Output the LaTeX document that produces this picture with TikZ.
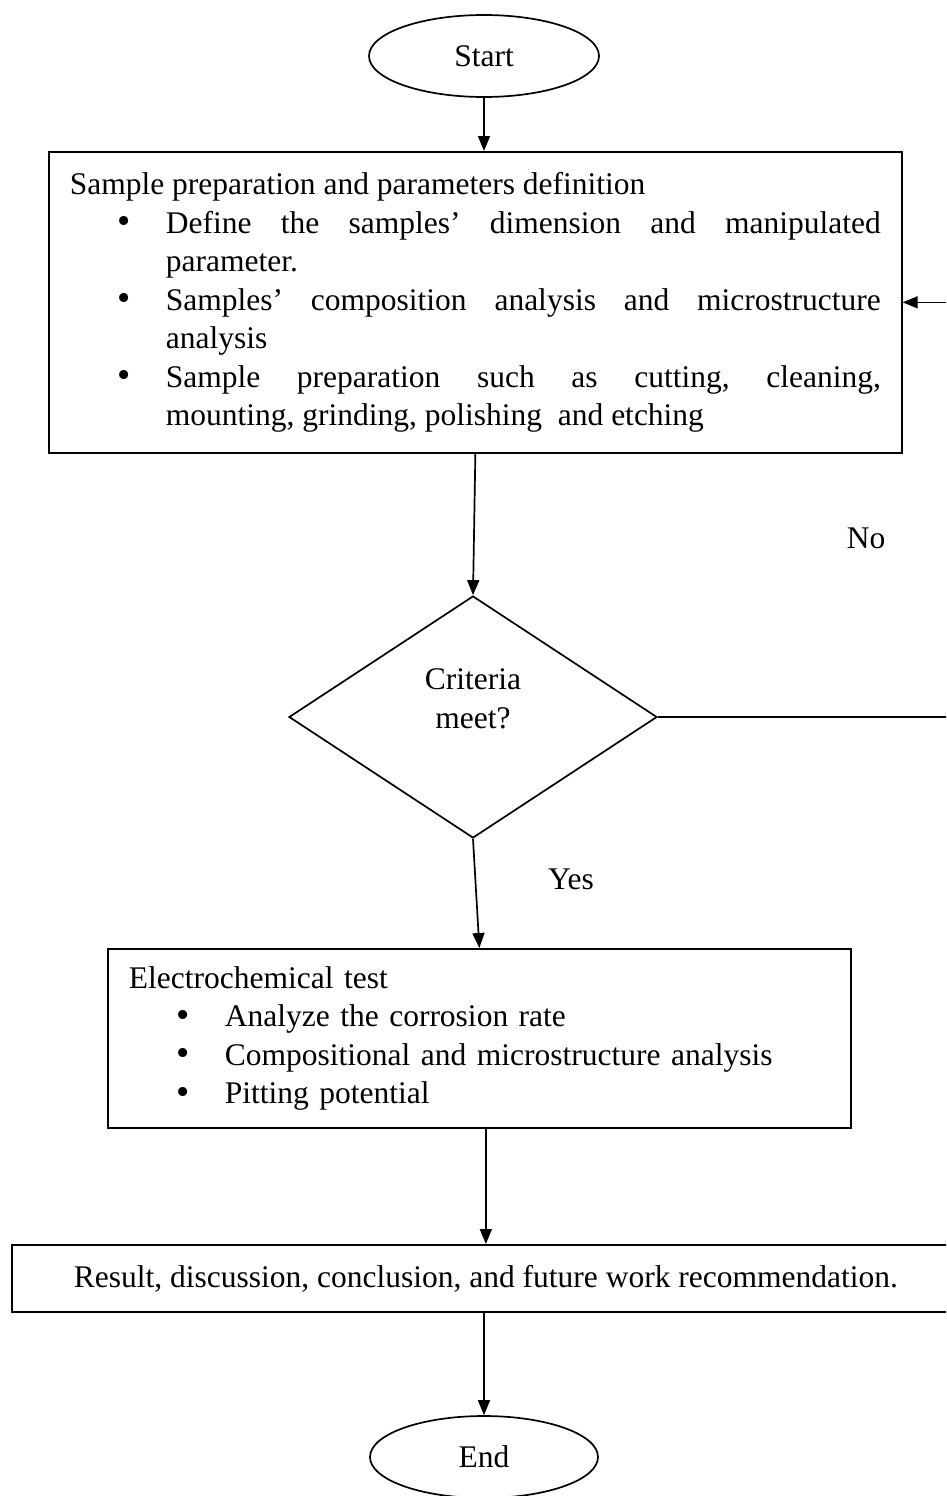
\documentclass[tikz,border=0pt]{standalone}
\usepackage{fontspec}
\usepackage{graphicx}
\setmainfont{Liberation Serif}
\usetikzlibrary{shapes.geometric,arrows.meta}
\newcommand{\bigbul}{\raisebox{-0.5pt}[0pt][0pt]{\scalebox{1.2}{\textbullet}}}
\newenvironment{bulletlist}{\begin{list}{\bigbul}{%
  \setlength{\leftmargin}{96pt}\setlength{\labelwidth}{20pt}%
  \setlength{\labelsep}{35pt}\setlength{\topsep}{0pt}%
  \setlength{\partopsep}{0pt}\setlength{\itemsep}{0pt}%
  \setlength{\parsep}{0pt}}}{\end{list}}
\begin{document}
\begin{tikzpicture}[x=1pt,y=-1pt,
  every node/.style={font=\fontsize{31.5}{38.5}\selectfont},
  frame/.style={draw, line width=1.7pt, inner sep=0pt},
  terminal/.style={frame, ellipse, minimum width=230pt, minimum height=82pt},
  process/.style={frame, rectangle, inner xsep=21pt, align=justify},
  decision/.style={frame, diamond, minimum width=368pt, minimum height=242pt, aspect=1.52},
  flow/.style={line width=1.7pt, -{Triangle[length=15pt,width=12pt]}},
  plain/.style={font=\fontsize{31.5}{38.5}\selectfont}]
\useasboundingbox (0,0) rectangle (946,1496);
\clip (0,0) rectangle (946,1496);

\node[terminal] (start) at (484,56) {Start};

\node[process, text width=811pt, minimum height=301pt, anchor=north west] (box1) at (48,151)
{\frenchspacing\hyphenpenalty=10000 Sample preparation and parameters definition
\begin{bulletlist}
\item Define the samples' dimension and manipulated\linebreak parameter.
\item Samples' composition analysis and microstructure\linebreak analysis
\item Sample preparation such as cutting, cleaning,\linebreak mounting, grinding, polishing\ \ and etching
\end{bulletlist}};

\node[decision] (dia) at (473,717) {};
\node[plain, align=center] (diatext) at (473,699) {Criteria\\meet?};

\node[plain] (no) at (866,538) {No};
\node[plain] (yes) at (571,879) {Yes};

\node[process, text width=701pt, minimum height=179pt, anchor=north west, align=left] (box2) at (107,948)
{Electrochemical test
\begin{bulletlist}
\item Analyze the corrosion rate
\item Compositional and microstructure analysis
\item Pitting potential
\end{bulletlist}};

\node[frame, rectangle, minimum width=948pt, minimum height=67pt, anchor=north west] (box3) at (11,1244)
{Result, discussion, conclusion, and future work recommendation.};

\node[terminal, minimum width=228pt] (end) at (484,1457) {End};

\coordinate (ret) at (967,717);

\draw[flow] (start.south) -- (start.south |- box1.north);
\draw[flow] (box1.south) -- (dia.north);
\draw[flow] (dia.south) -- (box2.north);
\draw[flow] (box3.north |- box2.south) -- (box3.north);
\draw[flow] (end.north |- box3.south) -- (end.north);
\draw[flow] (dia.east) -- (ret) |- (box1.east);
\end{tikzpicture}
\end{document}
